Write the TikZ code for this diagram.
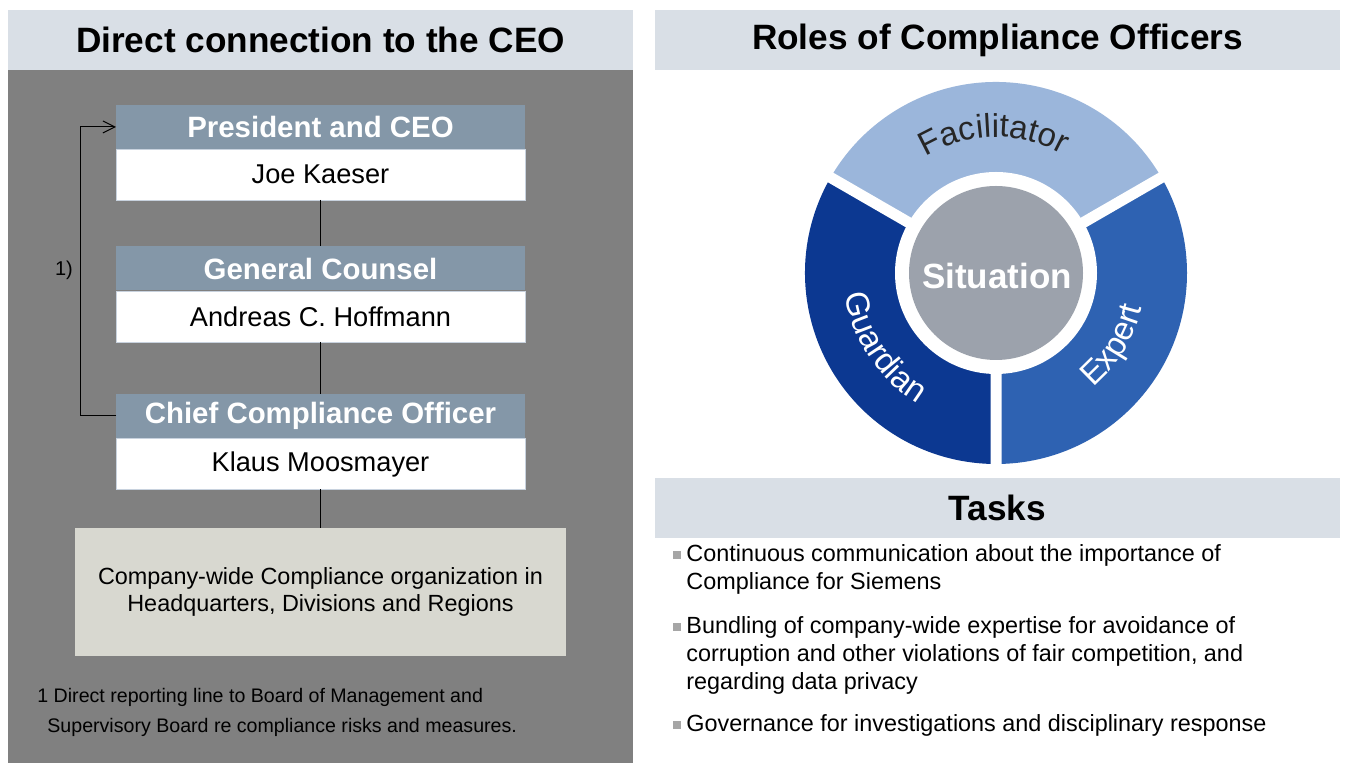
\documentclass[tikz,border=0pt]{standalone}
\usepackage{fontspec}
\setmainfont{Liberation Sans}
\usetikzlibrary{arrows.meta,decorations.text}
\definecolor{hdrbg}{RGB}{217,223,230}
\definecolor{panelgray}{RGB}{128,128,128}
\definecolor{orghead}{RGB}{132,151,168}
\definecolor{orgline}{RGB}{200,210,222}
\definecolor{compfill}{RGB}{216,216,208}
\definecolor{facil}{RGB}{155,182,219}
\definecolor{guard}{RGB}{12,56,145}
\definecolor{expert}{RGB}{46,98,178}
\definecolor{situ}{RGB}{156,162,172}
\definecolor{bulgray}{RGB}{166,166,166}
\begin{document}
\begin{tikzpicture}[x=0.5pt,y=0.5pt,
  titlebar/.style={fill=hdrbg, minimum height=30pt, inner sep=0pt, outer sep=0pt, font=\fontsize{17.6}{21}\selectfont\bfseries},
  rolehead/.style={fill=orghead, text=white, minimum width=204.5pt, minimum height=22pt, inner sep=0pt, outer sep=0pt, font=\fontsize{14.7}{17}\selectfont\bfseries},
  rolename/.style={fill=white, draw=orgline, line width=0.4pt, minimum width=204.5pt, minimum height=25.5pt, inner sep=0pt, outer sep=0pt, font=\fontsize{13.6}{16}\selectfont},
  orgbox/.style={fill=compfill, minimum width=245.5pt, minimum height=64pt, inner sep=0pt, outer sep=0pt, align=center, font=\fontsize{11.7}{13.5}\selectfont},
  link/.style={draw=black, line width=0.5pt},
  bultext/.style={anchor=west, align=left, inner sep=0pt, font=\fontsize{11.7}{14}\selectfont},
  bulsq/.style={fill=bulgray, minimum size=3.8pt, inner sep=0pt},
  smalltext/.style={inner sep=0pt, font=\fontsize{10}{12}\selectfont}
]
\useasboundingbox (0,0) rectangle (1345,-763);
\fill[white] (0,0) rectangle (1345,-763);
% left panel
\fill[panelgray] (8,-70) rectangle (633,-763);
\node[titlebar, minimum width=312.5pt] (lhdr) at (320.5,-40) {Direct connection to the CEO};
\node[titlebar, minimum width=342.5pt] (rhdr) at (997.5,-40) {Roles of Compliance Officers};
\node[titlebar, minimum width=342.5pt] (thdr) at (997.5,-508) {Tasks};

% org chart
\node[rolehead] (pres) at (320.5,-127) {President and CEO};
\node[rolename] (joe) at (320.5,-174.5) {Joe Kaeser};
\node[rolehead] (gc) at (320.5,-268.5) {General Counsel};
\node[rolename] (andreas) at (320.5,-316.5) {Andreas C. Hoffmann};
\node[rolehead] (cco) at (320.5,-416) {Chief Compliance Officer};
\node[rolename] (klaus) at (320.5,-464) {Klaus Moosmayer};
\node[orgbox] (org) at (320.5,-592) {Company-wide Compliance organization in\\Headquarters, Divisions and Regions};

\draw[link] (joe.south) -- (gc.north);
\draw[link] (andreas.south) -- (cco.north);
\draw[link] (klaus.south) -- (org.north);
\draw[link, -{Straight Barb[length=6pt,width=6pt]}] (cco.west) -- ++(-36,0) |- (pres.west);
\node[smalltext] (fn1) at (64,-270) {1)};

\node[anchor=west, align=left, inner sep=0pt, font=\fontsize{9.8}{15}\selectfont] (foot) at (37,-712)
  {1 Direct reporting line to Board of Management and\\\hspace*{5pt}Supervisory Board re compliance risks and measures.};

% wheel
\begin{scope}[shift={(996,-273)}]
  \fill[facil] (0,0) -- (30:191) arc[start angle=30, end angle=150, radius=191] -- cycle;
  \fill[guard] (0,0) -- (150:191) arc[start angle=150, end angle=270, radius=191] -- cycle;
  \fill[expert] (0,0) -- (270:191) arc[start angle=270, end angle=390, radius=191] -- cycle;
  \draw[white, line width=5.5pt] (0,0) -- (30:200) (0,0) -- (150:200) (0,0) -- (270:200);
  \fill[white] (0,0) circle[radius=101];
  \fill[situ] (0,0) circle[radius=87];
  \node[text=white, font=\fontsize{17.5}{20}\selectfont\bfseries] (sit) at (1,-3) {Situation};
  \path[decorate, decoration={text along path, text align=center, text color=black!85,
        text={|\fontsize{16.5}{16.5}\selectfont|Facilitator}}]
        (131:136) arc[start angle=131, end angle=51, radius=136];
  \path[decorate, decoration={text along path, text align=center, text color=white,
        text={|\fontsize{16.5}{16.5}\selectfont|Guardian}}]
        (165:152) arc[start angle=165, end angle=262, radius=152];
  \path[decorate, decoration={text along path, text align=center, text color=white,
        text={|\fontsize{16.5}{16.5}\selectfont|Expert}}]
        (-75:150) arc[start angle=-75, end angle=12, radius=150];
\end{scope}

% tasks
\node[bulsq] (s1) at (677,-555) {};
\node[bultext] (t1) at (686,-569) {Continuous communication about the importance of\\Compliance for Siemens};
\node[bulsq] (s2) at (677,-627) {};
\node[bultext] (t2) at (686,-655) {Bundling of company-wide expertise for avoidance of\\corruption and other violations of fair competition, and\\regarding data privacy};
\node[bulsq] (s3) at (677,-725) {};
\node[bultext] (t3) at (686,-725) {Governance for investigations and disciplinary response};
\end{tikzpicture}
\end{document}
